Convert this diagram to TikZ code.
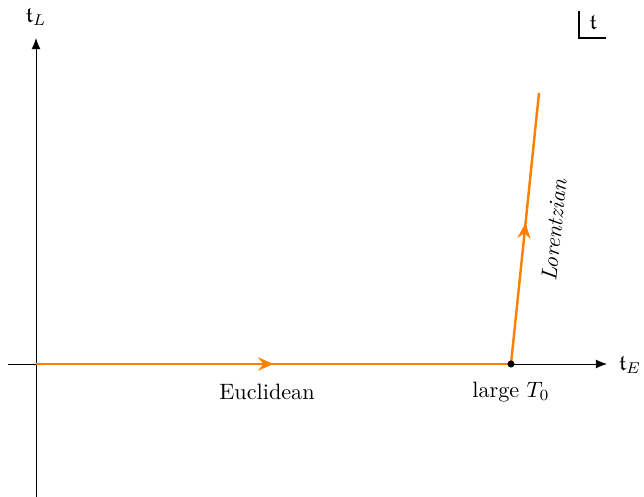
\documentclass[tikz,border=0pt]{standalone}
\usepackage{amsfonts}
\usepackage{amsmath}
\usetikzlibrary{arrows.meta,decorations.markings}
\definecolor{contour}{RGB}{255,128,0}

\tikzset{
	axis/.style={-{Latex[length=5pt,width=4pt]}, line width=0.4pt},
	path/.style={contour, line width=1.1pt, postaction={decorate}, decoration={markings, mark=at position #1 with {\arrow{Stealth[length=7pt,width=6pt,inset=2.5pt]}}}},
}

\begin{document}
\begin{tikzpicture}[x=0.45pt,y=-0.45pt]
			\useasboundingbox (0,0) rectangle (644,497);
			\coordinate (o) at (36,364);
			\coordinate (xl) at (8,364);
			\coordinate (xr) at (607,364);
			\coordinate (yb) at (36,497);
			\coordinate (yt) at (36,38);
			\coordinate (T0) at (511,364);
			\coordinate (top) at (539,93);
%			axes
			\draw[axis] (xl) -- (xr);
			\draw[axis] (yb) -- (yt);
			\node (tE) at (630,365) {$\mathfrak{t}_E$};
			\node (tL) at (36,17) {$\mathfrak{t}_L$};
%			contour
			\draw[path=0.5] (o) -- (T0);
			\draw[path=0.52] (T0) -- (top);
			\fill (T0) circle (1.6pt);
			\node (eu) at (267,392) {Euclidean};
			\node (lt) at (511,392) {large $T_0$};
			\node[rotate=84,inner sep=1pt] (lo) at (554,230) {\textit{Lorentzian}};
%			plane label
			\node (t) at (593,23) {$\mathfrak{t}$};
			\draw[line width=0.6pt] (579,11) -- (579,38) -- (606,38);
		\end{tikzpicture}
\end{document}
